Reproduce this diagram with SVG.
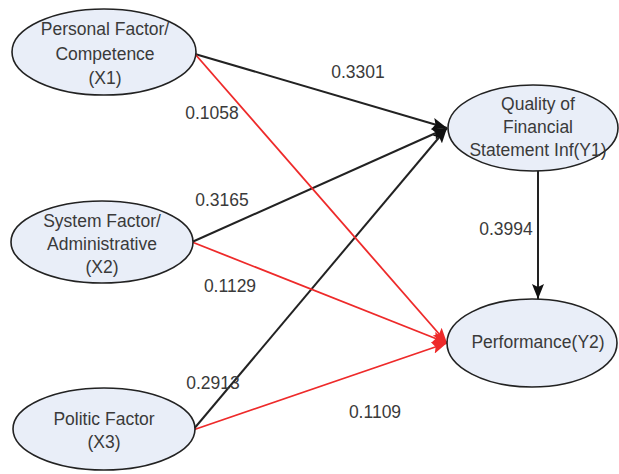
<svg xmlns="http://www.w3.org/2000/svg" width="619" height="474" viewBox="0 0 619 474">
<style>
.node ellipse{fill:#e9eef8;stroke:#222;stroke-width:1.6}
.node text,.lbl{font-family:"Liberation Sans",Arial,sans-serif;font-size:17.5px;fill:#3a3a3a;text-anchor:middle}
.blk{stroke:#222;stroke-width:2;fill:none}
.red{stroke:#ee2a2a;stroke-width:1.8;fill:none}
</style>
<defs>
<marker id="ab" markerUnits="userSpaceOnUse" markerWidth="16" markerHeight="12" refX="15" refY="6" orient="auto">
<path d="M0,0 L15,6 L0,12 L3,6 Z" fill="#111"/>
</marker>
<marker id="ar" markerUnits="userSpaceOnUse" markerWidth="16" markerHeight="12" refX="15" refY="6" orient="auto">
<path d="M0,0 L15,6 L0,12 L3,6 Z" fill="#ee2a2a"/>
</marker>
</defs>
<rect width="619" height="474" fill="#fff"/>
<g id="connectors">
<line class="blk" x1="195" y1="54" x2="447" y2="128" marker-end="url(#ab)"/>
<line class="blk" x1="192" y1="242" x2="447" y2="128" marker-end="url(#ab)"/>
<line class="blk" x1="193" y1="430" x2="447" y2="128" marker-end="url(#ab)"/>
<line class="red" x1="195" y1="54" x2="447" y2="343" marker-end="url(#ar)"/>
<line class="red" x1="192" y1="242" x2="447" y2="343" marker-end="url(#ar)"/>
<line class="red" x1="193" y1="430" x2="447" y2="343" marker-end="url(#ar)"/>
<line class="blk" x1="538" y1="171" x2="538" y2="299" marker-end="url(#ab)"/>
<text class="lbl" x="358" y="78">0.3301</text>
<text class="lbl" x="212" y="119">0.1058</text>
<text class="lbl" x="222" y="206">0.3165</text>
<text class="lbl" x="230" y="292">0.1129</text>
<text class="lbl" x="213" y="389">0.2913</text>
<text class="lbl" x="375" y="418">0.1109</text>
<text class="lbl" x="506" y="235">0.3994</text>
</g>
<g id="x1" class="node">
<ellipse cx="104" cy="52" rx="92" ry="43"/>
<text x="105" y="35">Personal Factor/</text>
<text x="105" y="60">Competence</text>
<text x="105" y="84">(X1)</text>
</g>
<g id="x2" class="node">
<ellipse cx="102" cy="242" rx="91" ry="41"/>
<text x="102" y="227">System Factor/</text>
<text x="102" y="250">Administrative</text>
<text x="102" y="273">(X2)</text>
</g>
<g id="x3" class="node">
<ellipse cx="104" cy="429" rx="91" ry="41"/>
<text x="104" y="425">Politic Factor</text>
<text x="104" y="448">(X3)</text>
</g>
<g id="y1" class="node">
<ellipse cx="533" cy="128" rx="85" ry="43"/>
<text x="538" y="110">Quality of</text>
<text x="538" y="133">Financial</text>
<text x="538" y="156">Statement Inf(Y1)</text>
</g>
<g id="y2" class="node">
<ellipse cx="532" cy="343" rx="85" ry="44"/>
<text x="538" y="348">Performance(Y2)</text>
</g>
</svg>
